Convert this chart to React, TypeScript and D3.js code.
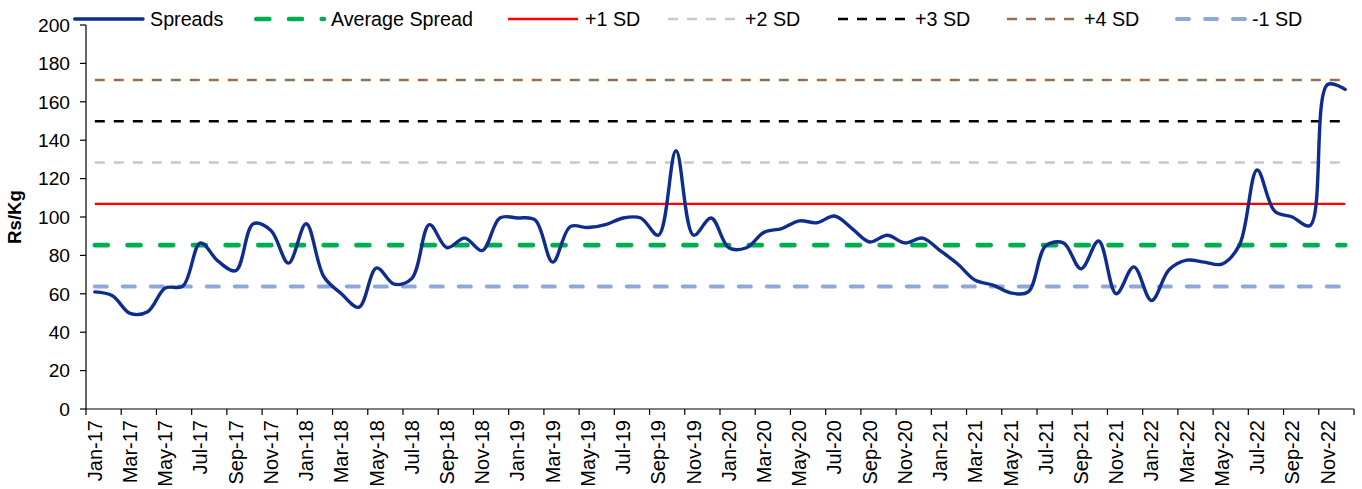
import React from "react";
import * as d3 from "d3";

// ---------- DATA ----------
const monthNames = ["Jan", "Feb", "Mar", "Apr", "May", "Jun", "Jul", "Aug", "Sep", "Oct", "Nov", "Dec"];
const years = ["17", "18", "19", "20", "21", "22"];
const categories = years.flatMap((y) => monthNames.map((m) => `${m}-${y}`));

const spreads2017 = [61, 59, 49.8, 50.7, 63, 64, 86.5, 77, 72, 96.5, 93, 76];
const spreads2018 = [96.5, 69, 60, 53, 73.5, 65, 68, 96, 84, 89, 82.5, 99.5];
const spreads2019 = [99.5, 98.5, 76.5, 95, 94.5, 96, 99.5, 99.5, 90.5, 134.5, 90.5, 99.5];
const spreads2020 = [84, 84, 92, 94, 98, 97, 100.5, 94, 87, 90.5, 86.5, 89];
const spreads2021 = [82.5, 75.5, 67, 64.5, 60.5, 61, 85, 86.5, 73, 87.5, 60, 74];
const spreads2022 = [56.5, 72.5, 77.5, 76.5, 75.5, 85.5, 124.5, 103, 100, 95.5, 169, 166.5];
const spreads = [...spreads2017, ...spreads2018, ...spreads2019, ...spreads2020, ...spreads2021, ...spreads2022];

const refNames = ["Average Spread", "+1 SD", "+2 SD", "+3 SD", "+4 SD", "-1 SD"];
const refLevels = [85.35, 106.85, 128.35, 149.85, 171.35, 63.85];

const yTicks = [0, 20, 40, 60, 80, 100, 120, 140, 160, 180, 200];
const yTitle = "Rs/Kg";

// ---------- STYLES / LAYOUT ----------
const W = 1362;
const H = 489;
const plot = { left: 86, right: 1354, top: 25, bottom: 409 };
const FONT = "'Liberation Sans', Arial, Helvetica, sans-serif";

const spreadStyle = { name: "Spreads", color: "#0E2D8E", width: 3.4, dash: "none", cap: "round" };
const refStyles = [
  { color: "#00B050", width: 4.6, dash: "13 19.7", cap: "round" },
  { color: "#FF0000", width: 2.4, dash: "none", cap: "butt" },
  { color: "#C8C8C8", width: 2.6, dash: "10 9", cap: "butt" },
  { color: "#000000", width: 2.6, dash: "10 9", cap: "butt" },
  { color: "#98704F", width: 2.6, dash: "10 9", cap: "butt" },
  { color: "#8FA6D8", width: 4, dash: "12 16", cap: "round" },
];
const legendX = [73, 254, 508, 668, 838, 1007, 1175];
const legendY = 19;
const legendLineLen = 70;

export default function App() {
  const x = d3.scaleBand<string>().domain(categories).range([plot.left, plot.right]).padding(0);
  const bw = x.bandwidth();
  const cx = (c: string) => (x(c) as number) + bw / 2;
  const y = d3.scaleLinear().domain([0, 200]).range([plot.bottom, plot.top]);

  const line = d3
    .line<number>()
    .x((_, i) => cx(categories[i]))
    .y((d) => y(d))
    .curve(d3.curveCatmullRom.alpha(0.5));

  const flatLine = (v: number) =>
    d3.line<string>().x((c) => cx(c)).y(() => y(v))(categories) as string;

  const xTickIdx = d3.range(0, categories.length + 1, 2);
  const legendItems = [spreadStyle, ...refStyles.map((s, i) => ({ ...s, name: refNames[i] }))];

  return (
    <svg
      width={W}
      height={H}
      style={{ position: "absolute", left: 0, top: 0, background: "#fff" }}
      fontFamily={FONT}
    >
      {/* reference lines */}
      {refLevels.map((v, i) => (
        <path
          key={refNames[i]}
          d={flatLine(v)}
          fill="none"
          stroke={refStyles[i].color}
          strokeWidth={refStyles[i].width}
          strokeDasharray={refStyles[i].dash}
          strokeLinecap={refStyles[i].cap as any}
        />
      ))}

      {/* spreads line */}
      <path
        d={line(spreads) as string}
        fill="none"
        stroke={spreadStyle.color}
        strokeWidth={spreadStyle.width}
        strokeLinejoin="round"
        strokeLinecap="round"
      />

      {/* y axis */}
      <line x1={plot.left} x2={plot.left} y1={y(200)} y2={y(0)} stroke="#000" strokeWidth={1.2} />
      {yTicks.map((t) => (
        <g key={t}>
          <line x1={plot.left - 6} x2={plot.left} y1={y(t)} y2={y(t)} stroke="#000" strokeWidth={1.2} />
          <text x={plot.left - 16} y={y(t)} dy="0.35em" textAnchor="end" fontSize={19.2} fill="#000">
            {t}
          </text>
        </g>
      ))}
      <text
        transform={`translate(21, ${(y(0) + y(200)) / 2 + 0}) rotate(-90)`}
        textAnchor="middle"
        fontSize={18.7}
        fontWeight="bold"
        fill="#000"
      >
        {yTitle}
      </text>

      {/* x axis */}
      <line x1={plot.left} x2={plot.right} y1={y(0)} y2={y(0)} stroke="#000" strokeWidth={1.2} />
      {xTickIdx.map((k) => {
        const xx = plot.left + k * bw;
        return <line key={k} x1={xx} x2={xx} y1={y(0)} y2={y(0) + 6} stroke="#000" strokeWidth={1.2} />;
      })}
      {categories.map((c, i) =>
        i % 2 === 0 ? (
          <text
            key={c}
            transform={`translate(${cx(c)}, ${y(0) + 11}) rotate(-90)`}
            dy="0.35em"
            textAnchor="end"
            fontSize={20}
            fill="#000"
          >
            {c}
          </text>
        ) : null
      )}

      {/* legend */}
      {legendItems.map((it, i) => (
        <g key={it.name}>
          <line
            x1={legendX[i] + (it.cap === "round" ? it.width / 2 : 0)}
            x2={legendX[i] + legendLineLen}
            y1={legendY}
            y2={legendY}
            stroke={it.color}
            strokeWidth={it.width}
            strokeDasharray={it.dash}
            strokeLinecap={it.cap as any}
          />
          <text x={legendX[i] + legendLineLen + 7} y={legendY} dy="0.35em" fontSize={19.7} fill="#000">
            {it.name}
          </text>
        </g>
      ))}
    </svg>
  );
}
